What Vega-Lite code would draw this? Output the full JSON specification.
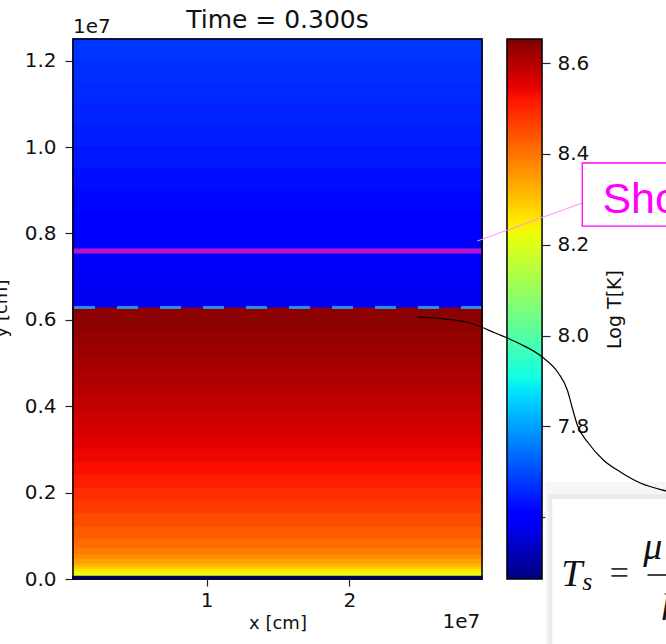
{
  "$schema": "https://vega.github.io/schema/vega-lite/v6.json",
  "width": 409,
  "height": 540,
  "autosize": {"type": "none"},
  "padding": {"left": 73, "top": 39, "right": 184, "bottom": 65},
  "background": "white",
  "config": {
    "view": {"stroke": null},
    "axis": {
      "labelFont": "DejaVu Sans",
      "titleFont": "DejaVu Sans",
      "labelColor": "#111111",
      "titleColor": "#111111",
      "titleFontWeight": "normal",
      "tickColor": "#222222",
      "tickWidth": 1.2,
      "grid": false,
      "domain": false,
      "labelFontSize": 20,
      "titleFontSize": 18,
      "labelOverlap": false,
      "labelFlush": false
    }
  },
  "datasets": {
    "temperature": [
      {"y0": 12000000, "y1": 12500000, "logT": 7.674},
      {"y0": 11500000, "y1": 12000000, "logT": 7.668},
      {"y0": 11000000, "y1": 11500000, "logT": 7.661},
      {"y0": 10500000, "y1": 11000000, "logT": 7.654},
      {"y0": 10000000, "y1": 10500000, "logT": 7.646},
      {"y0": 9500000, "y1": 10000000, "logT": 7.638},
      {"y0": 9000000, "y1": 9500000, "logT": 7.628},
      {"y0": 8500000, "y1": 9000000, "logT": 7.618},
      {"y0": 8000000, "y1": 8500000, "logT": 7.608},
      {"y0": 7500000, "y1": 8000000, "logT": 7.598},
      {"y0": 7000000, "y1": 7500000, "logT": 7.59},
      {"y0": 6265000, "y1": 7000000, "logT": 7.585},
      {"y0": 6000000, "y1": 6265000, "logT": 8.642},
      {"y0": 5700000, "y1": 6000000, "logT": 8.638},
      {"y0": 5400000, "y1": 5700000, "logT": 8.63},
      {"y0": 5100000, "y1": 5400000, "logT": 8.622},
      {"y0": 4800000, "y1": 5100000, "logT": 8.614},
      {"y0": 4500000, "y1": 4800000, "logT": 8.606},
      {"y0": 4200000, "y1": 4500000, "logT": 8.597},
      {"y0": 3900000, "y1": 4200000, "logT": 8.586},
      {"y0": 3600000, "y1": 3900000, "logT": 8.575},
      {"y0": 3300000, "y1": 3600000, "logT": 8.563},
      {"y0": 3000000, "y1": 3300000, "logT": 8.551},
      {"y0": 2700000, "y1": 3000000, "logT": 8.54},
      {"y0": 2400000, "y1": 2700000, "logT": 8.528},
      {"y0": 2100000, "y1": 2400000, "logT": 8.51},
      {"y0": 1800000, "y1": 2100000, "logT": 8.49},
      {"y0": 1500000, "y1": 1800000, "logT": 8.47},
      {"y0": 1200000, "y1": 1500000, "logT": 8.452},
      {"y0": 900000, "y1": 1200000, "logT": 8.432},
      {"y0": 700000, "y1": 900000, "logT": 8.41},
      {"y0": 550000, "y1": 700000, "logT": 8.39},
      {"y0": 450000, "y1": 550000, "logT": 8.37},
      {"y0": 350000, "y1": 450000, "logT": 8.345},
      {"y0": 280000, "y1": 350000, "logT": 8.32},
      {"y0": 220000, "y1": 280000, "logT": 8.29},
      {"y0": 160000, "y1": 220000, "logT": 8.26},
      {"y0": 110000, "y1": 160000, "logT": 8.235},
      {"y0": 60000, "y1": 110000, "logT": 8.215},
      {"y0": 0, "y1": 60000, "logT": 7.464}
    ],
    "connector": [
      {"x0": 28970000, "y0": 7824000, "x1": 36330000, "y1": 8704000}
    ],
    "shockBox": [
      {"x0": 36330000, "x1": 44610000, "y0": 8170000, "y1": 9630000}
    ],
    "shockLabel": [
      {"label": "Shock", "x": 37740000, "y": 8470000}
    ],
    "curve": [
      {"x": 24763000, "y": 6065000},
      {"x": 26726000, "y": 6019000},
      {"x": 28480000, "y": 5926000},
      {"x": 30233000, "y": 5694000},
      {"x": 31986000, "y": 5440000},
      {"x": 33529000, "y": 5139000},
      {"x": 34650000, "y": 4769000},
      {"x": 35282000, "y": 4375000},
      {"x": 35632000, "y": 3958000},
      {"x": 35983000, "y": 3565000},
      {"x": 36754000, "y": 3148000},
      {"x": 37806000, "y": 2755000},
      {"x": 38998000, "y": 2477000},
      {"x": 40401000, "y": 2222000},
      {"x": 42224000, "y": 2037000},
      {"x": 44609000, "y": 1875000}
    ]
  },
  "resolve": {"scale": {"y": "independent"}, "axis": {"y": "independent"}},
  "layer": [
    {
      "layer": [
        {
          "data": {"name": "temperature"},
          "mark": {"type": "rect", "strokeWidth": 1.5},
          "encoding": {
            "x": {
              "datum": 625000,
              "type": "quantitative",
              "scale": {"domain": [625000, 29300000], "nice": false, "zero": false},
              "axis": {
                "values": [10000000, 20000000],
                "labelExpr": "format(datum.value / 1e7, 'd')",
                "title": "x [cm]",
                "titleX": 204.5,
                "titleY": 49,
                "titleAlign": "center",
                "titleBaseline": "alphabetic",
                "labelPadding": 4,
                "tickSize": 7
              }
            },
            "x2": {"datum": 29300000},
            "y": {
              "field": "y0",
              "type": "quantitative",
              "scale": {"domain": [0, 12500000], "nice": false, "zero": false},
              "axis": {
                "orient": "left",
                "values": [0, 2000000, 4000000, 6000000, 8000000, 10000000, 12000000],
                "labelExpr": "format(datum.value / 1e7, '.1f')",
                "title": "y [cm]",
                "titleAngle": 270,
                "titleX": -67,
                "titleY": 269,
                "titleAlign": "center",
                "titleBaseline": "alphabetic",
                "labelPadding": 9,
                "tickSize": 8
              }
            },
            "y2": {"field": "y1"},
            "color": {
              "field": "logT",
              "type": "quantitative",
              "scale": {
                "domain": [7.464, 7.5948, 7.6126, 7.8683, 7.8802, 7.9099, 8.225, 8.2369, 8.2487, 8.5222, 8.546, 8.653],
                "range": ["#000080", "#0000ff", "#0000ff", "#00dbff", "#00e5f7", "#15ffe2", "#eeff08", "#f7f500", "#ffec00", "#ff1300", "#e80000", "#800000"],
                "interpolate": "rgb",
                "clamp": true
              },
              "legend": null
            },
            "stroke": {
              "field": "logT",
              "type": "quantitative",
              "scale": {
                "domain": [7.464, 7.5948, 7.6126, 7.8683, 7.8802, 7.9099, 8.225, 8.2369, 8.2487, 8.5222, 8.546, 8.653],
                "range": ["#000080", "#0000ff", "#0000ff", "#00dbff", "#00e5f7", "#15ffe2", "#eeff08", "#f7f500", "#ffec00", "#ff1300", "#e80000", "#800000"],
                "interpolate": "rgb",
                "clamp": true
              },
              "legend": null
            }
          }
        },
        {
          "data": {"values": [{"front": "contact"}]},
          "mark": {"type": "rule", "color": "#2a8ee8", "strokeWidth": 3, "strokeDash": [21, 22]},
          "encoding": {"y": {"datum": 6285000, "type": "quantitative"}}
        },
        {
          "data": {"values": [{"front": "shock"}]},
          "mark": {"type": "rule", "color": "#bb10cc", "strokeWidth": 5},
          "encoding": {"y": {"datum": 7590000, "type": "quantitative"}}
        },
        {
          "data": {"values": [{"frame": "plot"}]},
          "mark": {"type": "rect", "fill": "white", "fillOpacity": 0, "stroke": "black", "strokeWidth": 1.5},
          "encoding": {
            "x": {"datum": 625000, "type": "quantitative"},
            "x2": {"datum": 29300000},
            "y": {"datum": 0, "type": "quantitative"},
            "y2": {"datum": 12500000}
          }
        },
        {
          "data": {"values": [{"label": "Time = 0.300s", "x": 14962500, "y": 12755000}]},
          "mark": {"type": "text", "font": "DejaVu Sans", "fontSize": 25, "color": "#111111", "align": "center", "baseline": "alphabetic"},
          "encoding": {
            "x": {"field": "x", "type": "quantitative"},
            "y": {"field": "y", "type": "quantitative"},
            "text": {"field": "label"}
          }
        },
        {
          "data": {"values": [{"label": "1e7", "x": 625000, "y": 12640000}]},
          "mark": {"type": "text", "font": "DejaVu Sans", "fontSize": 20, "color": "#111111", "align": "left", "baseline": "alphabetic"},
          "encoding": {
            "x": {"field": "x", "type": "quantitative"},
            "y": {"field": "y", "type": "quantitative"},
            "text": {"field": "label"}
          }
        },
        {
          "data": {"values": [{"label": "1e7", "x": 29180000, "y": -1134000}]},
          "mark": {"type": "text", "font": "DejaVu Sans", "fontSize": 20, "color": "#111111", "align": "right", "baseline": "alphabetic"},
          "encoding": {
            "x": {"field": "x", "type": "quantitative"},
            "y": {"field": "y", "type": "quantitative"},
            "text": {"field": "label"}
          }
        }
      ]
    },
    {
      "data": {"values": [{"bar": "Log T"}]},
      "mark": {
        "type": "rect",
        "fill": {
          "gradient": "linear",
          "x1": 0, "y1": 1, "x2": 0, "y2": 0,
          "stops": [
            {"offset": 0, "color": "#000080"},
            {"offset": 0.11, "color": "#0000ff"},
            {"offset": 0.125, "color": "#0000ff"},
            {"offset": 0.34, "color": "#00dbff"},
            {"offset": 0.35, "color": "#00e5f7"},
            {"offset": 0.375, "color": "#15ffe2"},
            {"offset": 0.64, "color": "#eeff08"},
            {"offset": 0.65, "color": "#f7f500"},
            {"offset": 0.66, "color": "#ffec00"},
            {"offset": 0.89, "color": "#ff1300"},
            {"offset": 0.91, "color": "#e80000"},
            {"offset": 1, "color": "#800000"}
          ]
        },
        "stroke": "black",
        "strokeWidth": 1.5
      },
      "encoding": {
        "x": {"datum": 31050000, "type": "quantitative"},
        "x2": {"datum": 33510000},
        "y": {
          "datum": 7.464,
          "type": "quantitative",
          "scale": {"domain": [7.464, 8.653], "nice": false, "zero": false},
          "axis": {
            "orient": "right",
            "offset": 60,
            "values": [7.6, 7.8, 8.0, 8.2, 8.4, 8.6],
            "format": ".1f",
            "title": "Log T[K]",
            "titleAngle": 270,
            "titleX": 72,
            "titleY": 270,
            "titleFontSize": 19,
            "titleAlign": "center",
            "titleBaseline": "middle",
            "labelPadding": 7,
            "tickSize": 8
          }
        },
        "y2": {"datum": 8.653}
      }
    },
    {
      "layer": [
        {
          "data": {"name": "connector"},
          "mark": {"type": "rule", "color": "#ff8cff", "strokeWidth": 1},
          "encoding": {
            "x": {"field": "x0", "type": "quantitative"},
            "x2": {"field": "x1"},
            "y": {"field": "y0", "type": "quantitative", "scale": {"domain": [0, 12500000], "nice": false, "zero": false}, "axis": null},
            "y2": {"field": "y1"}
          }
        },
        {
          "data": {"name": "shockBox"},
          "mark": {"type": "rect", "fill": "white", "stroke": "#ff00ff", "strokeWidth": 1.3},
          "encoding": {
            "x": {"field": "x0", "type": "quantitative"},
            "x2": {"field": "x1"},
            "y": {"field": "y0", "type": "quantitative"},
            "y2": {"field": "y1"}
          }
        },
        {
          "data": {"name": "shockLabel"},
          "mark": {"type": "text", "font": "Liberation Sans", "fontSize": 43, "color": "#ff00ff", "align": "left", "baseline": "alphabetic"},
          "encoding": {
            "x": {"field": "x", "type": "quantitative"},
            "y": {"field": "y", "type": "quantitative"},
            "text": {"field": "label"}
          }
        },
        {
          "data": {"values": [{"x0": 33739000, "x1": 44610000, "y0": -1900000, "y1": 2245000}]},
          "mark": {"type": "rect", "fill": "#f6f6f6"},
          "encoding": {
            "x": {"field": "x0", "type": "quantitative"},
            "x2": {"field": "x1"},
            "y": {"field": "y0", "type": "quantitative"},
            "y2": {"field": "y1"}
          }
        },
        {
          "data": {"values": [{"x0": 33949000, "x1": 44610000, "y0": -1900000, "y1": 1968000}]},
          "mark": {"type": "rect", "fill": "#ebebeb"},
          "encoding": {
            "x": {"field": "x0", "type": "quantitative"},
            "x2": {"field": "x1"},
            "y": {"field": "y0", "type": "quantitative"},
            "y2": {"field": "y1"}
          }
        },
        {
          "data": {"values": [{"x0": 34230000, "x1": 44610000, "y0": -1900000, "y1": 1852000}]},
          "mark": {"type": "rect", "fill": "white"},
          "encoding": {
            "x": {"field": "x0", "type": "quantitative"},
            "x2": {"field": "x1"},
            "y": {"field": "y0", "type": "quantitative"},
            "y2": {"field": "y1"}
          }
        },
        {
          "data": {"name": "curve"},
          "mark": {"type": "line", "color": "black", "strokeWidth": 1.2, "interpolate": "monotone"},
          "encoding": {
            "x": {"field": "x", "type": "quantitative"},
            "y": {"field": "y", "type": "quantitative"}
          }
        },
        {
          "data": {"values": [{"glyph": "T", "x": 34860000, "y": -162000}, {"glyph": "μ", "x": 40610000, "y": 463000}, {"glyph": "k", "x": 41870000, "y": -949000}]},
          "mark": {"type": "text", "font": "Liberation Serif", "fontStyle": "italic", "fontSize": 38, "color": "#111111", "align": "left", "baseline": "alphabetic"},
          "encoding": {
            "x": {"field": "x", "type": "quantitative"},
            "y": {"field": "y", "type": "quantitative"},
            "text": {"field": "glyph"}
          }
        },
        {
          "data": {"values": [{"glyph": "s", "x": 36330000, "y": -255000}]},
          "mark": {"type": "text", "font": "Liberation Serif", "fontStyle": "italic", "fontSize": 26, "color": "#111111", "align": "left", "baseline": "alphabetic"},
          "encoding": {
            "x": {"field": "x", "type": "quantitative"},
            "y": {"field": "y", "type": "quantitative"},
            "text": {"field": "glyph"}
          }
        },
        {
          "data": {"values": [{"glyph": "=", "x": 38930000, "y": -116000}]},
          "mark": {"type": "text", "font": "Liberation Serif", "fontSize": 34, "color": "#333333", "align": "center", "baseline": "alphabetic"},
          "encoding": {
            "x": {"field": "x", "type": "quantitative"},
            "y": {"field": "y", "type": "quantitative"},
            "text": {"field": "glyph"}
          }
        },
        {
          "data": {"values": [{"x0": 40904000, "x1": 44610000, "y": 93000}]},
          "mark": {"type": "rule", "color": "#444444", "strokeWidth": 1.8},
          "encoding": {
            "x": {"field": "x0", "type": "quantitative"},
            "x2": {"field": "x1"},
            "y": {"field": "y", "type": "quantitative"}
          }
        }
      ]
    }
  ]
}
